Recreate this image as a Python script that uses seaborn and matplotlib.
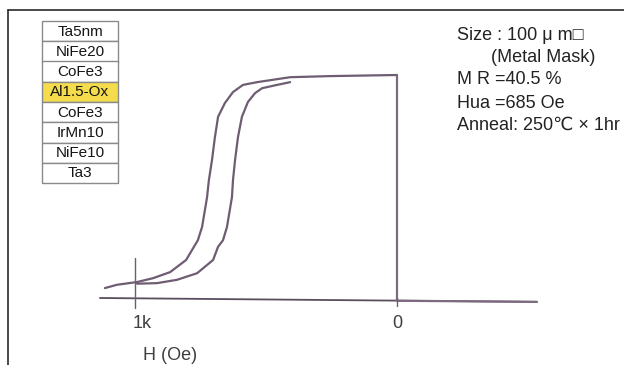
import matplotlib
matplotlib.use("Agg")
import matplotlib.pyplot as plt
import seaborn as sns
import pandas as pd
from matplotlib.patches import Rectangle
from matplotlib.lines import Line2D

sns.set_style("white")
plt.rcParams['font.family'] = ['Liberation Sans', 'DejaVu Sans']

# Field (Oe) and MR (%)
outer_H = [1115, 1069, 992, 931, 866, 805, 775, 760, 744, 725, 718, 706, 695, 683, 657, 626, 588, 534, 408, 256, 0]
outer_MR = [1.8, 2.4, 2.9, 3.6, 4.7, 6.9, 9.3, 10.5, 12.9, 18.3, 21.4, 25.1, 29.2, 32.9, 35.4, 37.4, 38.7, 39.2, 40.1, 40.3, 40.5]
inner_H = [992, 916, 840, 763, 702, 683, 664, 649, 630, 626, 618, 607, 592, 569, 542, 515, 458, 408]
inner_MR = [2.6, 2.7, 3.3, 4.5, 6.9, 9.3, 10.5, 12.9, 18.3, 21.4, 25.1, 29.2, 32.9, 35.6, 37.2, 38.1, 38.7, 39.2]
switch_H = [0, 0, -534]
switch_MR = [40.5, -0.5, -0.7]
axis_H = [1134, -534]
axis_MR = [0.0, -0.7]

layers = ["Ta5nm", "NiFe20", "CoFe3", "Al1.5-Ox", "CoFe3", "IrMn10", "NiFe10", "Ta3"]
highlight = "Al1.5-Ox"
tick_H = [1000, 0]
tick_labels = ["1k", "0"]
notes = ["Size : 100 μ m□", "(Metal Mask)", "M R =40.5 %", "Hua =685 Oe", "Anneal: 250℃ × 1hr"]

W, Hpx = 624, 365
fig = plt.figure(figsize=(W / 100, Hpx / 100), dpi=100)
ax = fig.add_axes([0, 0, 1, 1])

curve_col = "#6e5d72"
df_o = pd.DataFrame({"H": outer_H, "MR": outer_MR})
df_i = pd.DataFrame({"H": inner_H, "MR": inner_MR})
df_s = pd.DataFrame({"H": switch_H, "MR": switch_MR})
df_a = pd.DataFrame({"H": axis_H, "MR": axis_MR})
sns.lineplot(data=df_a, x="H", y="MR", sort=False, estimator=None, ax=ax, color="#5a4e5e", lw=1.3)
sns.lineplot(data=df_o, x="H", y="MR", sort=False, estimator=None, ax=ax, color=curve_col, lw=1.6)
sns.lineplot(data=df_i, x="H", y="MR", sort=False, estimator=None, ax=ax, color=curve_col, lw=1.6)
sns.lineplot(data=df_s, x="H", y="MR", sort=False, estimator=None, ax=ax, color="#7d6a80", lw=1.6)
for ln in ax.lines:
    ln.set_solid_joinstyle("round")

# pixel mapping: H=0 at x=397, 262 px per 1000 Oe; MR 0 at y=298, 40.5% at y=75
sc = 1000 / 262
ax.set_xlim(397 * sc, (397 - W) * sc)
my = 40.5 / 223
ax.set_ylim(-(Hpx - 298) * my, 298 * my)
ax.axis("off")

# ticks
ax.plot([tick_H[0], tick_H[0]], [(298 - 258) * my, -(308 - 298) * my], color="#6e5d72", lw=1.0)
ax.plot([tick_H[1], tick_H[1]], [0, -(306 - 298) * my], color="#6e5d72", lw=1.0)
for hv, lab, dx in zip(tick_H, tick_labels, [7, 0]):
    ax.text(hv - dx * sc, -(323 - 298) * my, lab, ha="center", va="center", fontsize=13, color="#3f3f3f")
ax.text(1000 - 35 * sc, -(355 - 298) * my, "H (Oe)", ha="center", va="center", fontsize=13, color="#3f3f3f")

# frame (top and left)
fig.add_artist(Line2D([8 / W, 1], [1 - 10 / Hpx, 1 - 10 / Hpx], color="#2a2a2a", lw=1.2))
fig.add_artist(Line2D([8 / W, 8 / W], [0, 1 - 10 / Hpx], color="#2a2a2a", lw=1.2))

# layer stack
x0, x1 = 42, 118
y0, rh = 21, 20.25
for i, name in enumerate(layers):
    top = y0 + i * rh
    fc = "#f5dc4c" if name == highlight else "white"
    fig.add_artist(Rectangle((x0 / W, 1 - (top + rh) / Hpx), (x1 - x0) / W, rh / Hpx,
                             facecolor=fc, edgecolor="#8a8a8a", lw=1.0))
    fig.text((x0 + x1) / 2 / W, 1 - (top + rh / 2 + 0.5) / Hpx, name, ha="center", va="center",
             fontsize=11, color="#151515")

# notes
note_pos = [(457, 35), (491, 58), (457, 80), (457, 103), (457, 125)]
for (px, py), t in zip(note_pos, notes):
    fig.text(px / W, 1 - py / Hpx, t, ha="left", va="center", fontsize=13, color="#222222")

fig.savefig("out.png", dpi=100)
